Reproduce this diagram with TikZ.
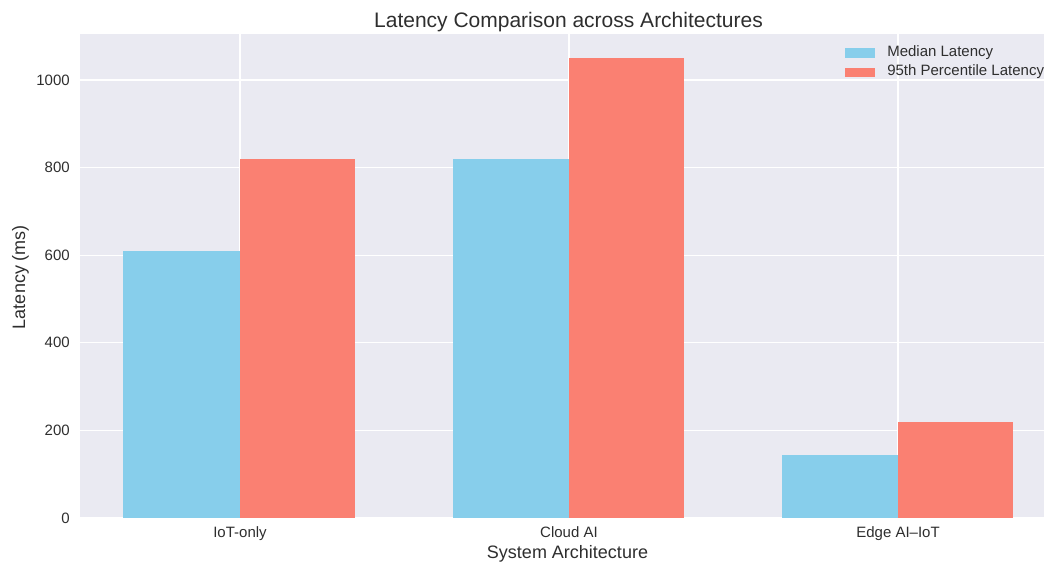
\documentclass[tikz,border=0pt]{standalone}
\usepackage{fontspec}
\setmainfont{Liberation Sans}
\definecolor{axbg}{HTML}{EAEAF2}
\definecolor{skyb}{HTML}{87CEEB}
\definecolor{salm}{HTML}{FA8072}
\definecolor{txt}{HTML}{2E2E2E}
\begin{document}
\begin{tikzpicture}[x=0.75pt,y=-0.75pt,
  tick/.style={font=\fontsize{11.25pt}{13pt}\selectfont, text=txt, inner sep=0pt},
  axlabel/.style={font=\fontsize{13.5pt}{16pt}\selectfont, text=txt, inner sep=0pt},
  titlestyle/.style={font=\fontsize{15.75pt}{18pt}\selectfont, text=txt, inner sep=0pt},
  gridline/.style={draw=white, line width=0.9pt},
  medbar/.style={fill=skyb},
  pctbar/.style={fill=salm},
  legtext/.style={font=\fontsize{11.25pt}{13pt}\selectfont, text=txt, inner sep=0pt, anchor=west}
]
\useasboundingbox (0,0) rectangle (1044,562);
% plot area
\fill[axbg] (80,34) rectangle (1044,518);
% horizontal grid
\foreach \v in {0,200,400,600,800,1000}{
  \draw[gridline] (80,{518-0.438*\v}) -- (1044,{518-0.438*\v});
  \node[tick, anchor=east] at (70,{518-0.438*\v}) {\v};
}
% vertical grid
\foreach \cx in {240,569,898}{
  \draw[gridline] (\cx,34) -- (\cx,518);
}
% bars: centers 240,569,898; width 115
\fill[medbar] (123,518) rectangle (240,{518-0.438*610});
\fill[pctbar] (240,518) rectangle (355,{518-0.438*820});
\fill[medbar] (453,518) rectangle (569,{518-0.438*820});
\fill[pctbar] (569,518) rectangle (684,{518-0.438*1050});
\fill[medbar] (782,518) rectangle (898,{518-0.438*145});
\fill[pctbar] (898,518) rectangle (1013,{518-0.438*220});
% x tick labels
\node[tick, anchor=base] (t1) at (240,537) {IoT-only};
\node[tick, anchor=base] (t2) at (569,537) {Cloud AI};
\node[tick, anchor=base] (t3) at (898,537) {Edge AI–IoT};
% axis labels
\node[axlabel, anchor=base] (xl) at (567.5,558) {System Architecture};
\node[axlabel, rotate=90] (yl) at (20.5,277) {Latency (ms)};
% title
\node[titlestyle, anchor=base] (ti) at (568.5,27) {Latency Comparison across Architectures};
% legend
\fill[skyb] (845,48) rectangle (875,57.5);
\fill[salm] (845,67.5) rectangle (875,77);
\node[legtext] (l1) at (887,52.5) {Median Latency};
\node[legtext] (l2) at (887,72) {95th Percentile Latency};
\end{tikzpicture}
\end{document}
